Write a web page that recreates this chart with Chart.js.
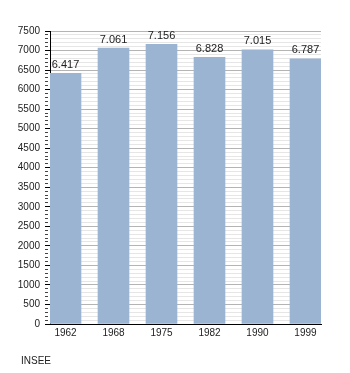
<!DOCTYPE html>
<html>
<head>
<meta charset="utf-8">
<script src="https://cdn.jsdelivr.net/npm/chart.js@4/dist/chart.umd.min.js"></script>
<style>
  html, body { margin: 0; padding: 0; background: #fff; }
  #wrap { position: relative; width: 350px; height: 373px; }
  #source { position: absolute; left: 21px; top: 355px; font: 10px "Liberation Sans", Arial, sans-serif; color: #222; }
</style>
</head>
<body>
<div id="wrap">
  <canvas id="popChart"></canvas>
  <div id="source">INSEE</div>
</div>
<script>
const years = ['1962', '1968', '1975', '1982', '1990', '1999'];
const population = [6417, 7061, 7156, 6828, 7015, 6787];
const valueLabels = ['6.417', '7.061', '7.156', '6.828', '7.015', '6.787'];

const FONT = '"Liberation Sans", Arial, sans-serif';

// labels above each bar, placed from the bar elements
const barLabels = {
    id: 'barLabels',
    afterDatasetsDraw(chart) {
        const ctx = chart.ctx;
        const meta = chart.getDatasetMeta(0);
        ctx.save();
        ctx.font = '11px ' + FONT;
        ctx.fillStyle = '#222';
        ctx.textAlign = 'center';
        ctx.textBaseline = 'bottom';
        meta.data.forEach((bar, i) => {
            ctx.fillText(valueLabels[i], bar.x, bar.y - 3);
        });
        ctx.restore();
    }
};

const points = years.map((y, i) => ({ x: i, y: population[i] }));
const isMajor = c => c.tick && c.tick.value % 500 === 0;

new Chart(document.getElementById('popChart'), {
    type: 'bar',
    data: {
        datasets: [{
            data: points,
            backgroundColor: '#9bb4d1',
            borderWidth: 0,
            barThickness: 31
        }]
    },
    options: {
        responsive: true,
        maintainAspectRatio: false,
        animation: false,
        layout: { padding: { top: 31, right: 29, left: 0, bottom: 0 } },
        plugins: { legend: { display: false }, tooltip: { enabled: false } },
        scales: {
            x: {
                type: 'linear',
                offset: false,
                min: -0.323,
                max: 5.323,
                afterBuildTicks: scale => {
                    scale.ticks = years.map((y, i) => ({ value: i }));
                },
                afterFit: scale => { scale.height = 49; },
                grid: { display: false, drawTicks: false, offset: false },
                border: { display: true, color: '#000', width: 1 },
                ticks: {
                    padding: 3,
                    color: '#222',
                    font: { family: FONT, size: 10 },
                    callback: v => years[v]
                }
            },
            y: {
                min: 0,
                max: 7500,
                afterFit: scale => { scale.width = 50; },
                border: { display: true, color: '#000', width: 1 },
                grid: {
                    color: c => (isMajor(c) ? '#b4b4b4' : '#e6e6e6'),
                    tickColor: c => (isMajor(c) ? '#000' : '#444'),
                    tickBorderDash: c => (isMajor(c) ? [] : [3, 20]),
                    tickLength: 5
                },
                ticks: {
                    stepSize: 100,
                    autoSkip: false,
                    padding: 5,
                    color: '#222',
                    font: { family: FONT, size: 10 },
                    callback: v => (v % 500 === 0 ? String(v) : '')
                }
            }
        }
    },
    plugins: [barLabels]
});
</script>
</body>
</html>
